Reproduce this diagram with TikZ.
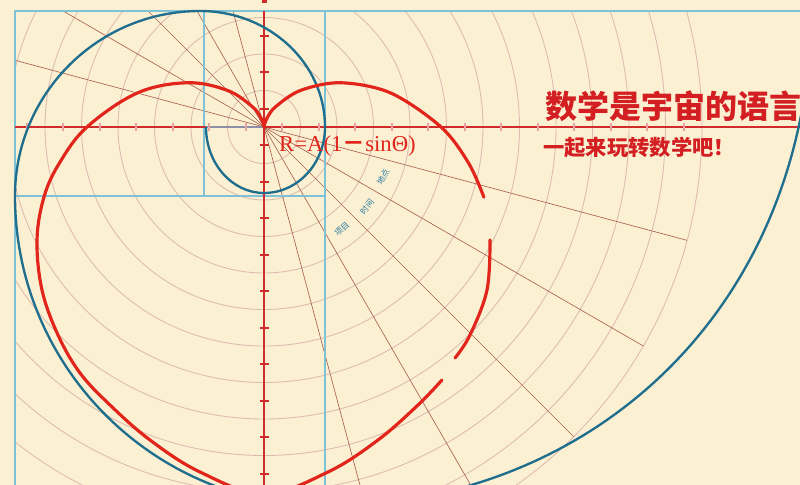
\documentclass[tikz,border=0pt]{standalone}
\usepackage{fontspec}
\setmainfont{Liberation Serif}
\newfontfamily\cjk{Noto Sans CJK SC}

\definecolor{cream}{HTML}{FCF0D3}
\definecolor{frameblue}{HTML}{7EC2D8}
\definecolor{spiralteal}{HTML}{1F6E8E}
\definecolor{heartred}{HTML}{E1251B}
\definecolor{titlered}{HTML}{D31E22}
\definecolor{axisred}{HTML}{D02C2C}
\definecolor{ringpink}{HTML}{DDBCB0}
\definecolor{raybrown}{HTML}{A8624C}
\definecolor{tickpink}{HTML}{E8A4A4}
\definecolor{slateline}{HTML}{8D8FA6}
\definecolor{labelteal}{HTML}{2C7C9E}

\begin{document}
\begin{tikzpicture}[x=0.03cm,y=-0.03cm,
  frame/.style={draw=frameblue,line width=1.1pt},
  ring/.style={draw=ringpink,line width=0.75pt},
  ray/.style={draw=raybrown,line width=0.55pt},
  axisline/.style={draw=axisred,line width=1.5pt},
  vtickmark/.style={draw=axisred,line width=1.8pt},
  htickmark/.style={draw=tickpink,line width=1.8pt},
  spiral/.style={draw=spiralteal,line width=2pt},
  heart/.style={draw=heartred,line width=2.7pt,line cap=round},
  angle label/.style={text=labelteal,font=\cjk\fontsize{7}{8}\selectfont,inner sep=0pt}]
\useasboundingbox (0,0) rectangle (800,485);
\fill[cream] (0,0) rectangle (800,485);
\coordinate (O) at (264,127);

% polar grid
\begin{scope}
\clip (15,11) rectangle (800,485);
\draw[ring] (O) circle[radius=36.5];
\draw[ring] (O) circle[radius=73];
\draw[ring] (O) circle[radius=109.5];
\draw[ring] (O) circle[radius=146];
\draw[ring] (O) circle[radius=182.5];
\draw[ring] (O) circle[radius=219];
\draw[ring] (O) circle[radius=255.5];
\draw[ring] (O) circle[radius=292];
\draw[ring] (O) circle[radius=328.5];
\draw[ring] (O) circle[radius=365];
\draw[ring] (O) circle[radius=401.5];
\draw[ring] (O) circle[radius=438];
\draw[ray] (O) -- +(15:438) (O) -- +(195:300);
\draw[ray] (O) -- +(30:438) (O) -- +(210:300);
\draw[ray] (O) -- +(45:438) (O) -- +(225:300);
\draw[ray] (O) -- +(60:438) (O) -- +(240:300);
\draw[ray] (O) -- +(75:438) (O) -- +(255:300);
\end{scope}

% golden rectangles
\draw[frame] (15,485) -- (15,11) -- (800,11);
\draw[frame] (204,11) -- (204,196);
\draw[frame] (15,196) -- (325,196);
\draw[frame] (325,11) -- (325,485);

% axes
\draw[axisline] (15,127) -- (800,127);
\draw[axisline] (264,11) -- (264,485);
\fill[axisred] (261.5,0) rectangle (266.5,3);
\draw[slateline,line width=2.2pt] (206,127) -- (O);

\draw[vtickmark] (259.5,35.75) -- +(9,0) (259.5,72.25) -- +(9,0) (259.5,108.75) -- +(9,0)
  (259.5,145.25) -- +(9,0) (259.5,181.75) -- +(9,0) (259.5,218.25) -- +(9,0)
  (259.5,254.75) -- +(9,0) (259.5,291.25) -- +(9,0) (259.5,327.75) -- +(9,0)
  (259.5,364.25) -- +(9,0) (259.5,400.75) -- +(9,0) (259.5,437.25) -- +(9,0)
  (259.5,473.75) -- +(9,0);
\draw[htickmark] (26.75,123) -- +(0,8) (63.25,123) -- +(0,8) (99.75,123) -- +(0,8)
  (136.25,123) -- +(0,8) (172.75,123) -- +(0,8) (209.25,123) -- +(0,8)
  (245.75,123) -- +(0,8) (282.25,123) -- +(0,8) (318.75,123) -- +(0,8)
  (355.25,123) -- +(0,8) (391.75,123) -- +(0,8) (428.25,123) -- +(0,8)
  (464.75,123) -- +(0,8) (501.25,123) -- +(0,8) (537.75,123) -- +(0,8)
  (574.25,123) -- +(0,8) (610.75,123) -- +(0,8) (647.25,123) -- +(0,8)
  (683.75,123) -- +(0,8);

% spiral
\draw[spiral] (206,127) arc[start angle=180,end angle=90,x radius=58,y radius=66]
  arc[start angle=90,end angle=0,x radius=61,y radius=66]
  arc[start angle=0,end angle=-90,x radius=125,y radius=116]
  arc[start angle=-90,end angle=-180,radius=185]
  arc[start angle=180,end angle=90,radius=310]
  .. controls (590,506) and (812,310) .. (812,0);

% heart curve
\draw[heart] plot[smooth,tension=0.55] coordinates {(264,127) (264.5,124.4) (267.6,117) (275.9,106.5)
  (300.6,90.4) (340.6,82.75) (390.7,93) (441,127) (468.6,163.1) (483.9,197.2)};
\draw[heart] plot[smooth,tension=0.6] coordinates {(490,240) (487,290) (470,335) (455,358)};
\draw[heart] plot[smooth,tension=0.6] coordinates {(442,380) (418,405) (378,440) (328,472)
  (264,494) (200,472) (150,440) (110,405) (80,373) (58,335) (42,290) (37,240)
  (44,197) (59.4,163.1) (87,127) (137.3,93) (187.4,82.75) (227.4,90.4) (252.1,106.5)
  (260.4,117) (263.5,124.4) (264,127)};

% texts
\node[anchor=base west,inner sep=0pt,text=heartred,font=\fontsize{19.4}{22}\selectfont] (formula) at (279,152)
  {R=A(1{\cjk\bfseries －}sinΘ)};
\node[anchor=west,inner sep=0pt,text=titlered,font=\cjk\bfseries\fontsize{27.3}{30}\selectfont] (title) at (545,106)
  {数学是宇宙的语言};
\node[anchor=west,inner sep=0pt,text=titlered,font=\cjk\bfseries\fontsize{18.2}{21}\selectfont] (subtitle) at (543,147.5)
  {一起来玩转数学吧！};
\node[angle label,rotate=62] (place) at (383,177) {地点};
\node[angle label,rotate=52] (time) at (367,207) {时间};
\node[angle label,rotate=44] (item) at (342,229) {项目};
\end{tikzpicture}
\end{document}
